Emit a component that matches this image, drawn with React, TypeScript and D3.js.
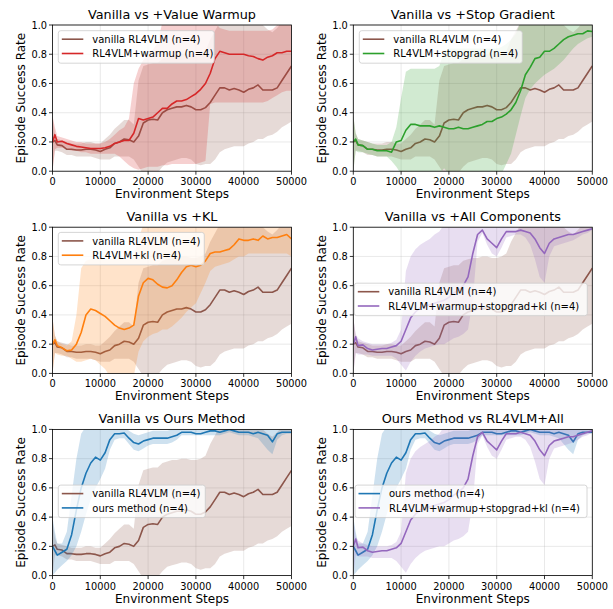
import React from 'react';
import * as d3 from 'd3';

// x positions (environment steps) shared by every series
const STEPS = [0, 500,
  1000, 2000, 3000, 4000, 5000, 6000, 7000, 8000, 9000, 10000,
  11000, 12000, 13000, 14000, 15000, 16000, 17000, 18000, 19000, 20000,
  21000, 22000, 23000, 24000, 25000, 26000, 27000, 28000, 29000, 30000,
  31000, 32000, 33000, 34000, 35000, 36000, 37000, 38000, 39000, 40000,
  41000, 42000, 43000, 44000, 45000, 46000, 47000, 48000, 49000, 50000];

const X_TICKS = [0, 10000, 20000, 30000, 40000, 50000];
const Y_TICKS = [0, 0.2, 0.4, 0.6, 0.8, 1.0];

const VANILLA_MEAN = [0.2, 0.21,
  0.18, 0.175, 0.15, 0.15, 0.145, 0.145, 0.15, 0.15, 0.145, 0.135,
  0.15, 0.16, 0.19, 0.2, 0.22, 0.215, 0.2, 0.24, 0.33, 0.35,
  0.355, 0.35, 0.4, 0.42, 0.43, 0.44, 0.44, 0.45, 0.44, 0.42,
  0.42, 0.435, 0.47, 0.52, 0.57, 0.57, 0.555, 0.565, 0.555, 0.54,
  0.56, 0.57, 0.59, 0.555, 0.555, 0.555, 0.57, 0.62, 0.67, 0.72];
const VANILLA_LO = [0, 0.14,
  0.14, 0.13, 0.11, 0.11, 0.1, 0.1, 0.1, 0.1, 0.09, 0.08,
  0.08, 0.08, 0.1, 0.1, 0.1, 0.1, 0.08, 0.03, -0.02, -0.02,
  -0.02, -0.01, 0.03, 0.06, 0.07, 0.08, 0.09, 0.09, 0.08, 0.05,
  0.04, 0.05, 0.05, 0.08, 0.13, 0.15, 0.16, 0.17, 0.17, 0.17,
  0.19, 0.2, 0.22, 0.22, 0.24, 0.25, 0.27, 0.3, 0.32, 0.34];
const VANILLA_HI = [0.38, 0.26,
  0.22, 0.21, 0.2, 0.19, 0.19, 0.19, 0.2, 0.2, 0.19, 0.19,
  0.22, 0.25, 0.29, 0.32, 0.35, 0.35, 0.32, 0.62, 0.72, 0.73,
  0.74, 0.74, 0.77, 0.78, 0.79, 0.79, 0.8, 0.8, 0.79, 0.79,
  0.8, 0.82, 0.9, 0.96, 1.02, 1.02, 1.02, 1.02, 1.02, 1.02,
  1.02, 1.02, 1.02, 1.0, 0.97, 0.95, 0.98, 1.02, 1.02, 1.02];

const WARMUP_MEAN = [0.2, 0.25,
  0.2, 0.205, 0.19, 0.18, 0.17, 0.165, 0.16, 0.155, 0.155, 0.155,
  0.16, 0.17, 0.19, 0.2, 0.21, 0.21, 0.26, 0.36, 0.35, 0.36,
  0.37, 0.4, 0.43, 0.43, 0.46, 0.48, 0.48, 0.49, 0.51, 0.53,
  0.56, 0.6, 0.67, 0.77, 0.82, 0.81, 0.8, 0.8, 0.8, 0.8,
  0.79, 0.785, 0.77, 0.76, 0.78, 0.79, 0.81, 0.81, 0.82, 0.82];
const WARMUP_LO = [0, 0.15,
  0.16, 0.16, 0.15, 0.14, 0.14, 0.13, 0.13, 0.12, 0.12, 0.12,
  0.12, 0.12, 0.12, 0.1, 0.07, 0.04, 0.02, 0.01, 0.02, 0.03,
  0.03, 0.03, 0.04, 0.04, 0.05, 0.05, 0.05, 0.05, 0.05, 0.05,
  0.06, 0.07, 0.46, 0.47, 0.47, 0.47, 0.47, 0.47, 0.47, 0.47,
  0.47, 0.47, 0.47, 0.47, 0.48, 0.5, 0.52, 0.54, 0.55, 0.55];
const WARMUP_HI = [0.38, 0.3,
  0.24, 0.23, 0.22, 0.21, 0.2, 0.2, 0.19, 0.19, 0.19, 0.19,
  0.2, 0.22, 0.25, 0.28, 0.3, 0.36, 0.6, 0.7, 0.76, 0.8,
  0.83, 0.88, 1.02, 1.02, 1.02, 1.02, 1.02, 1.02, 1.02, 1.02,
  1.02, 1.02, 1.02, 1.02, 0.98, 0.97, 0.96, 0.96, 0.96, 0.96,
  0.96, 0.96, 0.96, 0.96, 0.96, 0.97, 1.0, 1.02, 1.02, 1.02];

const STOPGRAD_MEAN = [0.2, 0.22,
  0.18, 0.175, 0.15, 0.15, 0.14, 0.14, 0.14, 0.13, 0.2, 0.21,
  0.28, 0.32, 0.32, 0.31, 0.31, 0.31, 0.3, 0.31, 0.3, 0.29,
  0.29, 0.3, 0.29, 0.29, 0.3, 0.31, 0.32, 0.34, 0.34, 0.36,
  0.37, 0.39, 0.42, 0.47, 0.55, 0.66, 0.71, 0.77, 0.78, 0.82,
  0.82, 0.84, 0.87, 0.9, 0.92, 0.93, 0.94, 0.94, 0.96, 0.955];
const STOPGRAD_LO = [0, 0.14,
  0.13, 0.13, 0.12, 0.11, 0.1, 0.1, 0.1, 0.07, 0.03, -0.02,
  -0.02, -0.02, -0.02, -0.02, -0.02, -0.02, -0.02, -0.02, 0.02, -0.02,
  -0.02, -0.02, -0.02, -0.02, -0.02, -0.02, -0.02, -0.02, -0.02, -0.02,
  -0.02, 0.05, 0.12, 0.25, 0.38, 0.5, 0.56, 0.6, 0.63, 0.66,
  0.68, 0.7, 0.73, 0.76, 0.8, 0.84, 0.87, 0.89, 0.91, 0.92];
const STOPGRAD_HI = [0.38, 0.26,
  0.22, 0.21, 0.2, 0.19, 0.18, 0.18, 0.18, 0.2, 0.3, 0.5,
  0.68, 0.7, 0.7, 0.7, 0.7, 0.7, 0.7, 0.72, 0.82, 0.84,
  0.84, 0.84, 0.84, 0.84, 0.84, 0.84, 0.84, 0.84, 0.84, 0.84,
  0.85, 0.87, 0.9, 0.94, 1.02, 1.02, 1.02, 1.02, 1.02, 1.02,
  1.02, 1.02, 1.02, 1.02, 1.02, 1.02, 1.02, 1.02, 1.02, 1.02];

const KL_MEAN = [0.2, 0.23,
  0.19, 0.175, 0.155, 0.16, 0.2, 0.28, 0.4, 0.44, 0.43, 0.41,
  0.39, 0.36, 0.33, 0.31, 0.3, 0.31, 0.33, 0.53, 0.62, 0.65,
  0.64, 0.61, 0.59, 0.585, 0.6, 0.64, 0.69, 0.73, 0.74, 0.73,
  0.74, 0.77, 0.82, 0.83, 0.83, 0.84, 0.85, 0.88, 0.92, 0.91,
  0.91, 0.92, 0.91, 0.94, 0.92, 0.93, 0.93, 0.94, 0.95, 0.92];
const KL_LO = [0, 0.14,
  0.13, 0.12, 0.12, 0.1, 0.08, 0.08, 0.09, 0.1, 0.09, 0.06,
  0.03, -0.02, -0.02, -0.02, -0.02, -0.02, -0.02, 0.15, 0.22, 0.25,
  0.27, 0.28, 0.3, 0.3, 0.32, 0.35, 0.38, 0.42, 0.45, 0.48,
  0.55, 0.62, 0.7, 0.73, 0.74, 0.75, 0.76, 0.78, 0.8, 0.8,
  0.82, 0.82, 0.82, 0.82, 0.82, 0.82, 0.82, 0.82, 0.82, 0.8];
const KL_HI = [0.38, 0.26,
  0.22, 0.2, 0.19, 0.22, 0.4, 0.72, 0.77, 0.78, 0.78, 0.78,
  0.78, 0.78, 0.78, 0.78, 0.78, 0.78, 0.8, 0.92, 1.02, 1.02,
  1.02, 1.02, 1.02, 1.02, 1.02, 1.02, 1.02, 1.02, 1.02, 1.02,
  1.02, 1.02, 1.02, 1.02, 1.02, 1.02, 1.02, 1.02, 1.02, 1.02,
  1.02, 1.02, 1.02, 1.02, 1.02, 1.02, 1.02, 1.02, 1.02, 1.02];

const ALL_MEAN = [0.2, 0.25,
  0.19, 0.195, 0.17, 0.16, 0.165, 0.17, 0.17, 0.18, 0.19, 0.22,
  0.3, 0.38, 0.42, 0.45, 0.46, 0.47, 0.48, 0.49, 0.5, 0.52,
  0.55, 0.57, 0.6, 0.66, 0.82, 0.95, 0.98, 0.92, 0.89, 0.86,
  0.92, 0.97, 0.97, 0.97, 0.98, 0.97, 0.96, 0.92, 0.86, 0.82,
  0.89, 0.92, 0.93, 0.94, 0.95, 0.95, 0.96, 0.97, 0.98, 0.99];
const ALL_LO = [0, 0.14,
  0.13, 0.13, 0.13, 0.12, 0.12, 0.12, 0.12, 0.12, 0.1, 0.06,
  0.02, 0.08, 0.12, 0.15, 0.17, 0.18, 0.19, 0.2, 0.2, 0.22,
  0.24, 0.25, 0.27, 0.3, 0.5, 0.9, 0.96, 0.88, 0.82, 0.8,
  0.86, 0.93, 0.94, 0.95, 0.95, 0.93, 0.88, 0.78, 0.66, 0.62,
  0.8, 0.87, 0.88, 0.89, 0.9, 0.91, 0.93, 0.95, 0.96, 0.98];
const ALL_HI = [0.38, 0.27,
  0.24, 0.22, 0.21, 0.2, 0.2, 0.2, 0.2, 0.21, 0.23, 0.3,
  0.7, 0.8, 0.85, 0.88, 0.9, 0.92, 0.95, 0.97, 1.02, 1.02,
  1.02, 1.02, 1.02, 1.02, 1.02, 1.02, 1.02, 1.02, 1.02, 1.02,
  1.02, 1.02, 1.02, 1.02, 1.02, 1.02, 1.02, 1.02, 1.02, 1.02,
  1.02, 1.02, 1.02, 1.02, 1.02, 1.02, 1.02, 1.02, 1.02, 1.02];

const OURS_MEAN = [0.2, 0.17,
  0.14, 0.16, 0.18, 0.28, 0.45, 0.6, 0.7, 0.77, 0.81, 0.79,
  0.84, 0.93, 0.97, 0.97, 0.975, 0.94, 0.91, 0.9, 0.92, 0.93,
  0.94, 0.94, 0.94, 0.94, 0.95, 0.96, 0.98, 0.98, 0.98, 0.97,
  0.97, 0.98, 0.99, 0.99, 0.98, 0.99, 1.0, 0.99, 0.98, 0.98,
  0.98, 0.97, 0.98, 0.97, 0.96, 0.915, 0.97, 0.98, 0.98, 0.98];
const OURS_LO = [0, 0.02,
  0.04, 0.07, 0.1, 0.14, 0.2, 0.3, 0.42, 0.52, 0.6, 0.66,
  0.73, 0.86, 0.93, 0.94, 0.94, 0.9, 0.86, 0.85, 0.87, 0.89,
  0.9, 0.9, 0.9, 0.9, 0.91, 0.93, 0.96, 0.96, 0.96, 0.96,
  0.96, 0.96, 0.96, 0.96, 0.96, 0.97, 0.98, 0.97, 0.96, 0.96,
  0.96, 0.95, 0.94, 0.9, 0.86, 0.83, 0.93, 0.96, 0.97, 0.97];
const OURS_HI = [0.4, 0.3,
  0.22, 0.22, 0.3, 0.55, 0.8, 0.97, 1.02, 1.02, 1.02, 1.02,
  1.02, 1.02, 1.02, 1.02, 1.02, 0.99, 0.97, 0.96, 0.97, 0.98,
  0.99, 0.99, 0.99, 0.99, 1.0, 1.0, 1.0, 1.0, 1.0, 1.0,
  1.0, 1.0, 1.0, 1.0, 1.0, 1.0, 1.0, 1.0, 1.0, 1.0,
  1.0, 1.0, 1.0, 1.0, 1.0, 1.0, 1.0, 1.0, 1.0, 1.0];

const SERIES_LABELS = {
  vanilla: 'vanilla RL4VLM (n=4)',
  warmup: 'RL4VLM+warmup (n=4)',
  stopgrad: 'RL4VLM+stopgrad (n=4)',
  kl: 'RL4VLM+kl (n=4)',
  all: 'RL4VLM+warmup+stopgrad+kl (n=4)',
  ours: 'ours method (n=4)',
};

const PANEL_TITLES = [
  'Vanilla vs +Value Warmup',
  'Vanilla vs +Stop Gradient',
  'Vanilla vs +KL',
  'Vanilla vs +All Components',
  'Vanilla vs Ours Method',
  'Ours Method vs RL4VLM+All',
];
const PANEL_SERIES = [
  ['vanilla', 'warmup'],
  ['vanilla', 'stopgrad'],
  ['vanilla', 'kl'],
  ['vanilla', 'all'],
  ['vanilla', 'ours'],
  ['ours', 'all'],
];

const SERIES = {
  vanilla: { color: '#8c564b', mean: VANILLA_MEAN, lo: VANILLA_LO, hi: VANILLA_HI },
  warmup: { color: '#d62728', mean: WARMUP_MEAN, lo: WARMUP_LO, hi: WARMUP_HI },
  stopgrad: { color: '#2ca02c', mean: STOPGRAD_MEAN, lo: STOPGRAD_LO, hi: STOPGRAD_HI },
  kl: { color: '#ff7f0e', mean: KL_MEAN, lo: KL_LO, hi: KL_HI },
  all: { color: '#9467bd', mean: ALL_MEAN, lo: ALL_LO, hi: ALL_HI },
  ours: { color: '#1f77b4', mean: OURS_MEAN, lo: OURS_LO, hi: OURS_HI },
};

// layout
const COL_LEFT = [52.5, 353.3];
const ROW_TOP = [25, 227.2, 429.4];
const PW = 239;
const PH = 146.2;
const LEGEND_BOX = [
  { dx: 5.8, dy: 5.7, w: 156 },
  { dx: 6, dy: 5.7, w: 163 },
  { dx: 5.8, dy: 5.2, w: 146 },
  { dx: 1, dy: 56, w: 233 },
  { dx: 5.8, dy: 55.7, w: 147 },
  { dx: 1.7, dy: 55.7, w: 232 },
];

const FONT = "'DejaVu Sans', Verdana, sans-serif";

function Panel({ idx }: { idx: number }) {
  const left = COL_LEFT[idx % 2];
  const top = ROW_TOP[Math.floor(idx / 2)];
  const x = d3.scaleLinear().domain([0, 50000]).range([left, left + PW]);
  const y = d3.scaleLinear().domain([0, 1]).range([top + PH, top]);
  const bottom = top + PH;
  const keys = PANEL_SERIES[idx];
  const clipId = `clip-${idx}`;
  const lg = LEGEND_BOX[idx];
  const bx = left + lg.dx;
  const by = top + lg.dy;

  return (
    <g>
      <defs>
        <clipPath id={clipId}>
          <rect x={left} y={top} width={PW} height={PH} />
        </clipPath>
      </defs>
      {X_TICKS.map((t) => (
        <line key={'gx' + t} x1={x(t)} x2={x(t)} y1={top} y2={bottom} stroke="#b0b0b0" strokeOpacity={0.35} strokeWidth={0.8} />
      ))}
      {Y_TICKS.map((t) => (
        <line key={'gy' + t} x1={left} x2={left + PW} y1={y(t)} y2={y(t)} stroke="#b0b0b0" strokeOpacity={0.35} strokeWidth={0.8} />
      ))}
      <g clipPath={`url(#${clipId})`}>
        {keys.map((k) => {
          const s = SERIES[k];
          const area = d3
            .area<number>()
            .x((d) => x(d))
            .y0((_, i) => y(s.lo[i]))
            .y1((_, i) => y(s.hi[i]));
          const line = d3
            .line<number>()
            .x((d) => x(d))
            .y((_, i) => y(s.mean[i]));
          return (
            <g key={k}>
              <path d={area(STEPS) || ''} fill={s.color} fillOpacity={0.22} stroke="none" />
              <path d={line(STEPS) || ''} fill="none" stroke={s.color} strokeWidth={1.6} strokeLinejoin="round" />
            </g>
          );
        })}
      </g>
      <rect x={left} y={top} width={PW} height={PH} fill="none" stroke="#000" strokeWidth={0.8} />
      {X_TICKS.map((t) => (
        <g key={'tx' + t}>
          <line x1={x(t)} x2={x(t)} y1={bottom} y2={bottom + 3.5} stroke="#000" strokeWidth={0.8} />
          <text x={x(t)} y={bottom + 14} textAnchor="middle" fontSize={9.8} fill="#000">{t}</text>
        </g>
      ))}
      {Y_TICKS.map((t) => (
        <g key={'ty' + t}>
          <line x1={left - 3.5} x2={left} y1={y(t)} y2={y(t)} stroke="#000" strokeWidth={0.8} />
          <text x={left - 5.5} y={y(t) + 3.5} textAnchor="end" fontSize={9.8} fill="#000">{t.toFixed(1)}</text>
        </g>
      ))}
      <text x={left + PW / 2} y={top - 6} textAnchor="middle" fontSize={12.8} fill="#000">{PANEL_TITLES[idx]}</text>
      <text x={left + PW / 2} y={bottom + 27} textAnchor="middle" fontSize={12} fill="#000">Environment Steps</text>
      <text transform={`translate(${left - 27.2},${top + PH / 2}) rotate(-90)`} textAnchor="middle" fontSize={12} fill="#000">Episode Success Rate</text>
      <rect x={bx} y={by} width={lg.w} height={32.5} rx={2.5} fill="#fff" fillOpacity={0.8} stroke="#cccccc" strokeWidth={0.8} />
      {keys.map((k, i) => {
        const cy = by + 8.5 + i * 14.3;
        return (
          <g key={'lg' + k}>
            <line x1={bx + 3.5} x2={bx + 25} y1={cy} y2={cy} stroke={SERIES[k].color} strokeWidth={1.6} />
            <text x={bx + 34} y={cy + 3.6} fontSize={10} fill="#000">{SERIES_LABELS[k]}</text>
          </g>
        );
      })}
    </g>
  );
}

export default function App() {
  return (
    <div style={{ position: 'fixed', left: 0, top: 0 }}>
      <svg width={613} height={609} style={{ display: 'block', background: '#fff' }} fontFamily={FONT}>
        {PANEL_TITLES.map((_, i) => (
          <Panel key={i} idx={i} />
        ))}
      </svg>
    </div>
  );
}
